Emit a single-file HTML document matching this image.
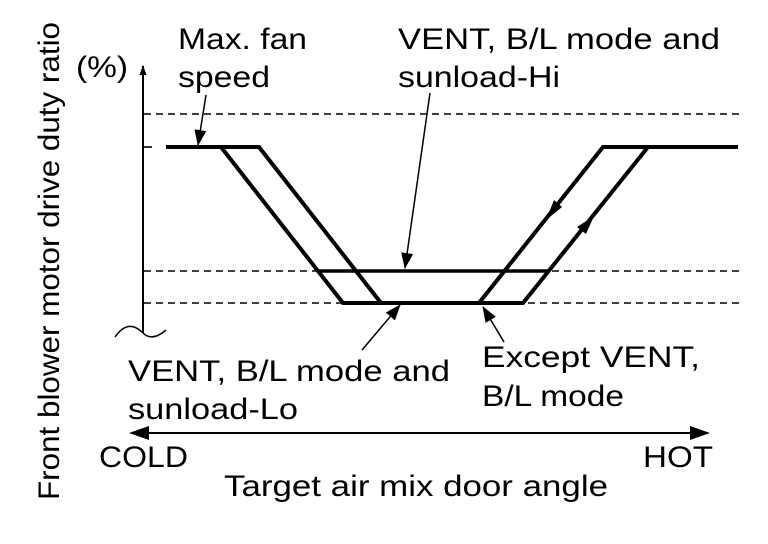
<!DOCTYPE html>
<html><head><style>
html,body{margin:0;padding:0;background:#fff;}
svg{display:block;}
text{font-family:"Liberation Sans",sans-serif;font-size:30px;fill:#000;}
</style></head><body>
<svg width="768" height="544" viewBox="0 0 768 544" xmlns="http://www.w3.org/2000/svg">
<defs>
<marker id="a" markerWidth="10" markerHeight="10" refX="9" refY="5" orient="auto" markerUnits="userSpaceOnUse" viewBox="0 0 10 10">
<path d="M0,1.5 L10,5 L0,8.5 z" fill="#000"/></marker>
<marker id="b" markerWidth="16" markerHeight="16" refX="15" refY="8" orient="auto" markerUnits="userSpaceOnUse" viewBox="0 0 16 16">
<path d="M0,2 L16,8 L0,14 z" fill="#000"/></marker>
</defs>
<text transform="translate(59,500) rotate(-90)" textLength="478" lengthAdjust="spacingAndGlyphs">Front blower motor drive duty ratio</text>
<text x="76" y="77" textLength="52" lengthAdjust="spacingAndGlyphs">(%)</text>
<line x1="143" y1="333" x2="143" y2="66" stroke="#000" stroke-width="2" marker-end="url(#a)"/>
<path d="M115,337 Q128,318 143,333 Q152,342 166,330" fill="none" stroke="#000" stroke-width="1.5"/>
<g stroke="#000" stroke-width="1.6" stroke-dasharray="7,5">
<line x1="144" y1="114" x2="740" y2="114"/>
<line x1="144" y1="271" x2="740" y2="271"/>
<line x1="144" y1="303" x2="740" y2="303"/>
</g>
<line x1="144" y1="147" x2="152" y2="147" stroke="#000" stroke-width="1.6"/>
<g stroke="#000" stroke-width="4" fill="none" stroke-linejoin="miter">
<polyline points="166,147 259,147 381,303"/>
<polyline points="221,147 343,303 523,303 648,147"/>
<line x1="319" y1="271" x2="548" y2="271" stroke-width="3.5"/>
<polyline points="479,303 603,147 738,147"/>
</g>
<path d="M546,220 L562,207 L554,200 z" fill="#000"/>
<path d="M594,216 L586,234 L577,227 z" fill="#000"/>
<g stroke="#000" stroke-width="1.5">
<line x1="206" y1="95" x2="198" y2="145" marker-end="url(#b)"/>
<line x1="430" y1="93" x2="405" y2="268" marker-end="url(#b)"/>
<line x1="362" y1="350" x2="400" y2="305" marker-end="url(#b)"/>
<line x1="504" y1="342" x2="483" y2="307" marker-end="url(#b)"/>
<line x1="134" y1="433" x2="700" y2="433" stroke-width="2"/>
</g>
<path d="M129,433 L149,426 L149,440 z" fill="#000"/>
<path d="M690,426 L690,440 L710,433 z" fill="#000"/>
<text x="178" y="49" textLength="129" lengthAdjust="spacingAndGlyphs">Max. fan</text>
<text x="178" y="87" textLength="92" lengthAdjust="spacingAndGlyphs">speed</text>
<text x="398" y="49" textLength="322" lengthAdjust="spacingAndGlyphs">VENT, B/L mode and</text>
<text x="398" y="87" textLength="162" lengthAdjust="spacingAndGlyphs">sunload-Hi</text>
<text x="128" y="381" textLength="322" lengthAdjust="spacingAndGlyphs">VENT, B/L mode and</text>
<text x="128" y="419" textLength="170" lengthAdjust="spacingAndGlyphs">sunload-Lo</text>
<text x="482" y="367" textLength="218" lengthAdjust="spacingAndGlyphs">Except VENT,</text>
<text x="482" y="406" textLength="142" lengthAdjust="spacingAndGlyphs">B/L mode</text>
<text x="99" y="467" textLength="89" lengthAdjust="spacingAndGlyphs">COLD</text>
<text x="643" y="467" textLength="70" lengthAdjust="spacingAndGlyphs">HOT</text>
<text x="224" y="496" textLength="384" lengthAdjust="spacingAndGlyphs">Target air mix door angle</text>
</svg>
</body></html>
